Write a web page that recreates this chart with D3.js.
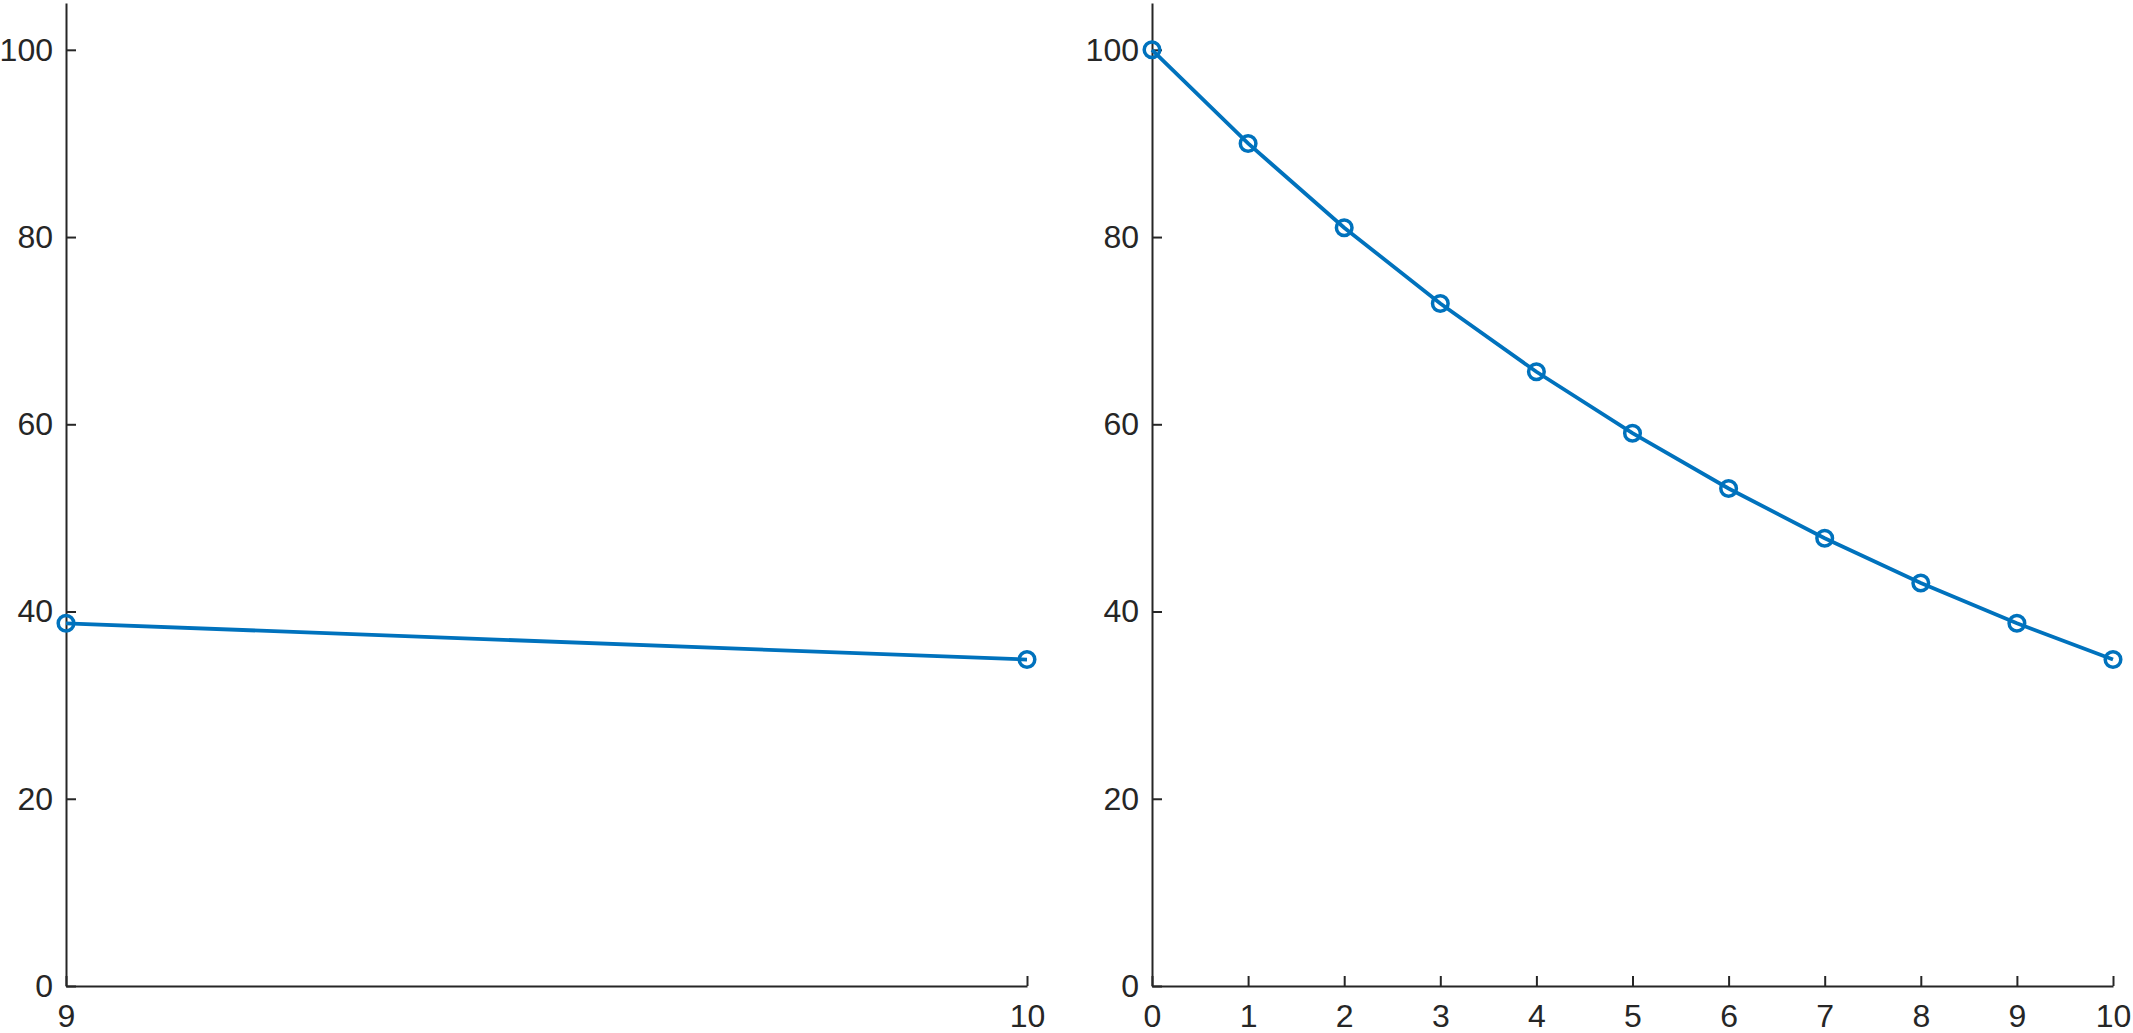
<!DOCTYPE html>
<html><head><meta charset="utf-8">
<script src="https://cdn.jsdelivr.net/npm/d3@7"></script>
<style>body{margin:0;background:#fff}svg{display:block}</style>
</head><body>
<svg id="c" width="2133" height="1033"></svg>
<script>
const leftX = [9, 10];
const leftY = [38.74, 34.87];
const rightX = [0, 1, 2, 3, 4, 5, 6, 7, 8, 9, 10];
const rightY = [100, 90, 81, 72.9, 65.61, 59.05, 53.14, 47.83, 43.05, 38.74, 34.87];
const yTicks = [0, 20, 40, 60, 80, 100];
const leftXTicks = [9, 10];
const rightXTicks = [0, 1, 2, 3, 4, 5, 6, 7, 8, 9, 10];

const svg = d3.select('#c');
const col = '#0072BD', axc = '#262626';
const font = '"Liberation Sans", Arial, Helvetica, sans-serif';

function panel(x0, x1, xd, xs, ys, xt) {
  const x = d3.scaleLinear().domain(xd).range([x0, x1]);
  const y = d3.scaleLinear().domain([0, 105]).range([986, 3]);
  const g = svg.append('g');
  const ax = g.append('g').attr('transform', `translate(${x0},0)`)
    .call(d3.axisLeft(y).tickValues(yTicks).tickFormat(d3.format('d')).tickSizeInner(-10).tickSizeOuter(0).tickPadding(13));
  const bx = g.append('g').attr('transform', `translate(0,986)`)
    .call(d3.axisBottom(x).tickValues(xt).tickFormat(d3.format('d')).tickSizeInner(-10).tickSizeOuter(0).tickPadding(18));
  [ax, bx].forEach(a => {
    a.selectAll('path,line').attr('stroke', axc).attr('stroke-width', 2);
    a.selectAll('text').attr('fill', axc).style('font-family', font).style('font-size', '32px');
  });
  const pts = xs.map((v, i) => [v, ys[i]]);
  g.append('path').datum(pts).attr('fill', 'none').attr('stroke', col).attr('stroke-width', 3.8)
    .attr('d', d3.line().x(d => x(d[0])).y(d => y(d[1])));
  g.selectAll('circle').data(pts).join('circle')
    .attr('cx', d => x(d[0])).attr('cy', d => y(d[1])).attr('r', 7.8)
    .attr('fill', 'none').attr('stroke', col).attr('stroke-width', 3.5);
}
panel(66, 1027, [9, 10], leftX, leftY, leftXTicks);
panel(1152, 2113, [0, 10], rightX, rightY, rightXTicks);
</script>
</body></html>
